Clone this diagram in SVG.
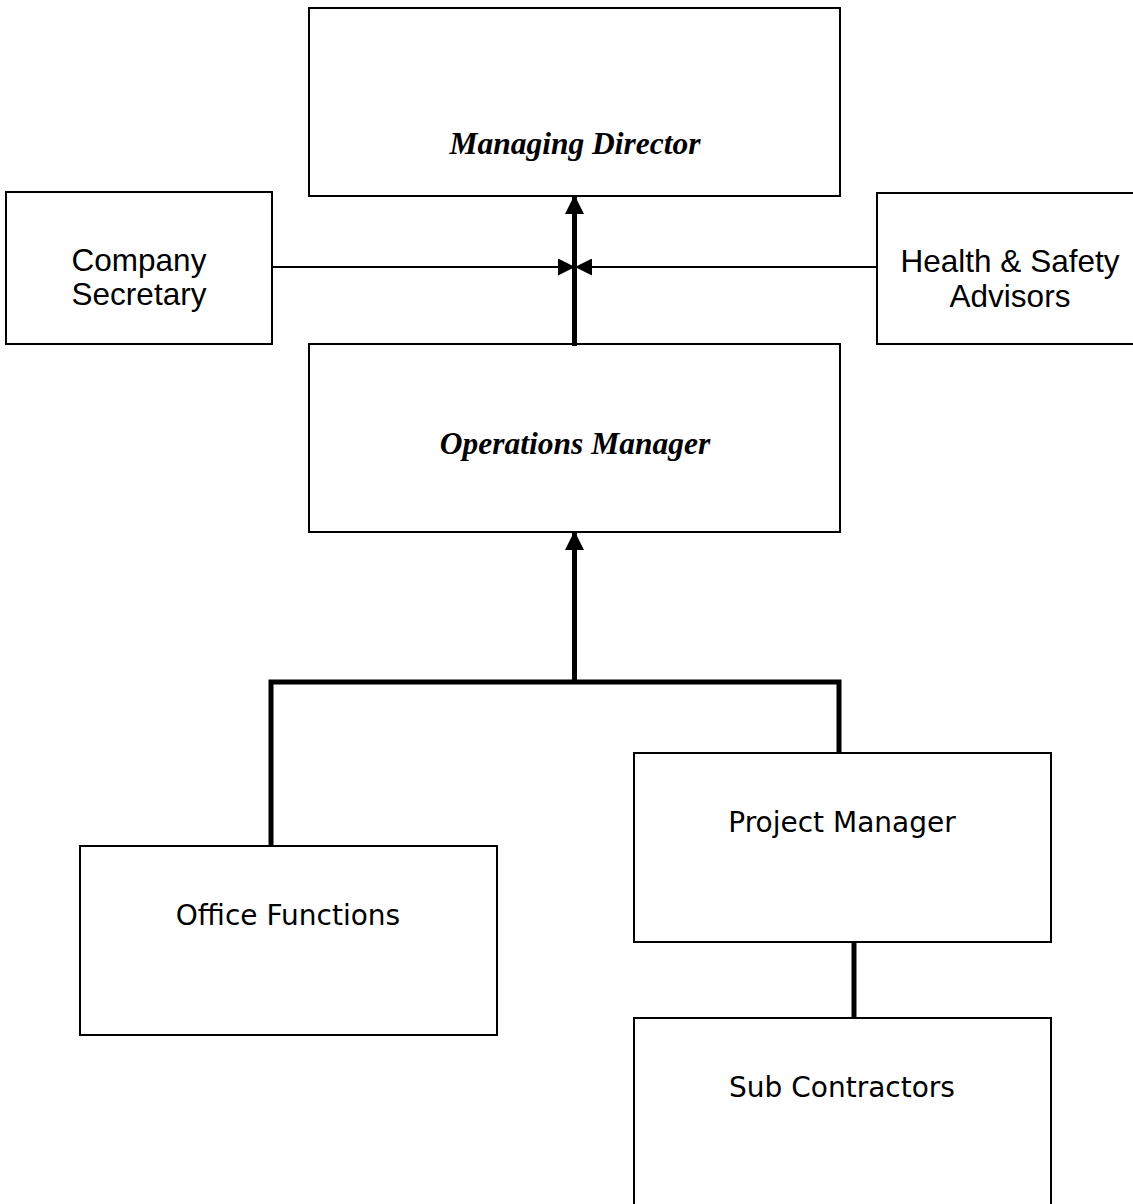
<svg xmlns="http://www.w3.org/2000/svg" width="1133" height="1204" viewBox="0 0 1133 1204">
<style>
.box{fill:#fff;stroke:#000;stroke-width:2}
.it{font-family:"Liberation Serif",serif;font-style:italic;font-weight:bold;font-size:31.5px;text-anchor:middle}
.ar{font-family:"Liberation Sans",Arial,sans-serif;font-size:31.5px;text-anchor:middle}
.ta{font-family:"DejaVu Sans",Verdana,sans-serif;font-size:28px;text-anchor:middle}
.thin{stroke:#000;stroke-width:2;fill:none}
.thick{stroke:#000;stroke-width:5;fill:none}
</style>
<defs>
<marker id="ah" markerUnits="userSpaceOnUse" markerWidth="19" markerHeight="19" viewBox="0 0 19 19" refX="18" refY="9.5" orient="auto">
<path d="M0,0 L19,9.5 L0,19 Z" fill="#000"/>
</marker>
<marker id="ahs" markerUnits="userSpaceOnUse" markerWidth="17" markerHeight="17" viewBox="0 0 17 17" refX="16" refY="8.5" orient="auto">
<path d="M0,0 L17,8.5 L0,17 Z" fill="#000"/>
</marker>
</defs>
<rect width="1133" height="1204" fill="#fff"/>
<g id="md"><rect class="box" x="309" y="8" width="531" height="188"/><text class="it" x="575" y="154">Managing Director</text></g>
<g id="cs"><rect class="box" x="6" y="192" width="266" height="152"/><text class="ar" x="139" y="271">Company</text><text class="ar" x="139" y="305">Secretary</text></g>
<g id="hs"><rect class="box" x="877" y="193" width="270" height="151"/><text class="ar" x="1010" y="272">Health &amp; Safety</text><text class="ar" x="1010" y="307">Advisors</text></g>
<g id="om"><rect class="box" x="309" y="344" width="531" height="188"/><text class="it" x="575" y="454">Operations Manager</text></g>
<g id="of"><rect class="box" x="80" y="846" width="417" height="189"/><text class="ta" x="288" y="925">Office Functions</text></g>
<g id="pm"><rect class="box" x="634" y="753" width="417" height="189"/><text class="ta" x="842" y="832">Project Manager</text></g>
<g id="sc"><rect class="box" x="634" y="1018" width="417" height="200"/><text class="ta" x="842" y="1097">Sub Contractors</text></g>
<g id="connectors">
<line class="thick" x1="574.5" y1="346" x2="574.5" y2="196" marker-end="url(#ah)"/>
<line class="thin" x1="272" y1="267" x2="574" y2="267" marker-end="url(#ahs)"/>
<line class="thin" x1="877" y1="267" x2="576" y2="267" marker-end="url(#ahs)"/>
<line class="thick" x1="574.5" y1="682" x2="574.5" y2="532" marker-end="url(#ah)"/>
<polyline class="thick" points="271,846 271,682 839,682 839,753"/>
<line class="thick" x1="854" y1="942" x2="854" y2="1018"/>
</g>
</svg>
